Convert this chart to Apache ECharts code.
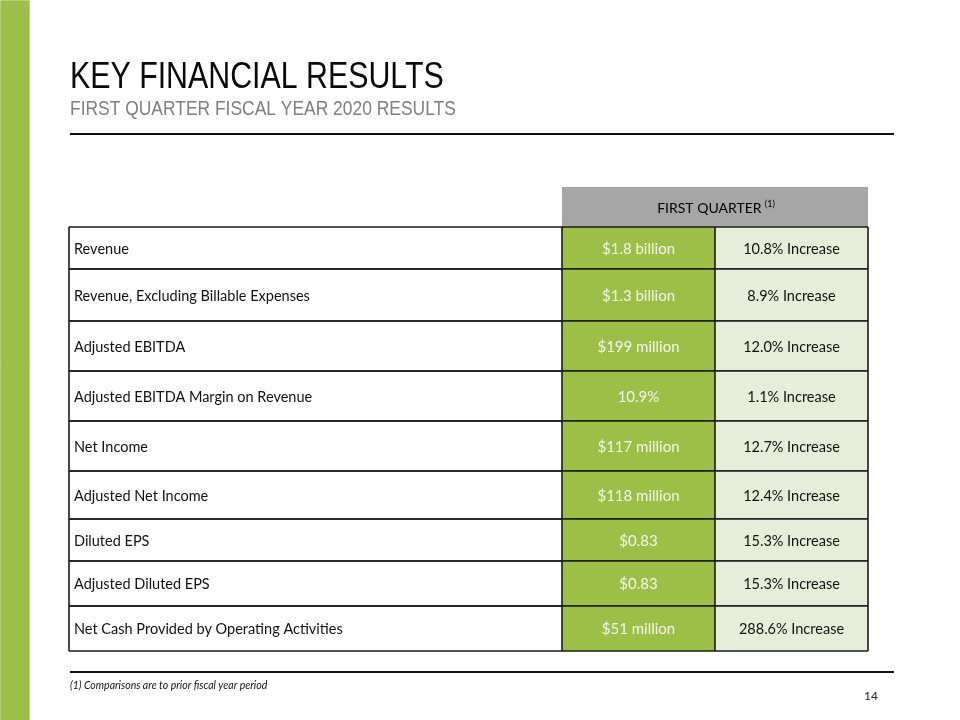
<!DOCTYPE html>
<html><head><meta charset="utf-8">
<script src="https://cdn.jsdelivr.net/npm/echarts@6/dist/echarts.min.js"></script>
<style>html,body{margin:0;padding:0;background:#fff}#c{width:960px;height:720px}</style>
</head><body><div id="c"></div>
<script>
// ---- data ----
const metrics = [
  'Revenue',
  'Revenue, Excluding Billable Expenses',
  'Adjusted EBITDA',
  'Adjusted EBITDA Margin on Revenue',
  'Net Income',
  'Adjusted Net Income',
  'Diluted EPS',
  'Adjusted Diluted EPS',
  'Net Cash Provided by Operating Activities'
];
const values = ['$1.8 billion', '$1.3 billion', '$199 million', '10.9%', '$117 million', '$118 million', '$0.83', '$0.83', '$51 million'];
const changes = ['10.8% Increase', '8.9% Increase', '12.0% Increase', '1.1% Increase', '12.7% Increase', '12.4% Increase', '15.3% Increase', '15.3% Increase', '288.6% Increase'];
const headerLabel = 'FIRST QUARTER';
const headerNote = '(1)';
const titleText = 'KEY FINANCIAL RESULTS';
const subtitleText = 'FIRST QUARTER FISCAL YEAR 2020 RESULTS';
const footnoteText = '(1) Comparisons are to prior fiscal year period';
const pageNumber = '14';

// ---- layout (sizes, not data) ----
const colWidths = [493, 153, 153];
const headerHeight = 40;
const rowHeights = [42, 52, 50, 50, 50, 48, 42, 45, 45];

const GREEN = '#9cbf47';
const LIGHT = '#e6eed9';
const GRAY = '#a6a6a6';
const LINE = '#1a1a1a';
const BODY_FONT = 'Lato';

const colEdges = [0];
colWidths.forEach(w => colEdges.push(colEdges[colEdges.length - 1] + w));
const totalW = colEdges[colEdges.length - 1];
const totalH = headerHeight + rowHeights.reduce((a, b) => a + b, 0);
function rowTop(i) { let s = headerHeight; for (let k = 0; k < i; k++) s += rowHeights[k]; return s; }

function renderRow(params, api) {
  const i = api.value(0);
  const y0 = rowTop(i), y1 = y0 + rowHeights[i];
  const p = colEdges.map(x => api.coord([x, y0]));
  const q = colEdges.map(x => api.coord([x, y1]));
  const top = p[0][1], bot = q[0][1], mid = (top + bot) / 2 + 1;
  const ln = (x1, ya, x2, yb) => ({ type: 'line', shape: { x1: x1, y1: ya, x2: x2, y2: yb }, style: { stroke: LINE, lineWidth: 1.6 } });
  const txt = (x, text, fill, align, size) => ({
    type: 'text', x: x, y: mid,
    style: { text: text, fill: fill, font: size + 'px ' + BODY_FONT, textAlign: align, align: align, textVerticalAlign: 'middle', verticalAlign: 'middle' }
  });
  return {
    type: 'group',
    children: [
      { type: 'rect', shape: { x: p[1][0], y: top, width: p[2][0] - p[1][0], height: bot - top }, style: { fill: GREEN } },
      { type: 'rect', shape: { x: p[2][0], y: top, width: p[3][0] - p[2][0], height: bot - top }, style: { fill: LIGHT } },
      ln(p[0][0], top, p[3][0], top),
      ln(p[0][0], bot, p[3][0], bot),
      ln(p[0][0], top, p[0][0], bot),
      ln(p[1][0], top, p[1][0], bot),
      ln(p[2][0], top, p[2][0], bot),
      ln(p[3][0], top, p[3][0], bot),
      txt(p[0][0] + 5, metrics[i], '#111', 'left', 14.5),
      txt((p[1][0] + p[2][0]) / 2, values[i], '#f4f7ee', 'center', 15),
      txt((p[2][0] + p[3][0]) / 2, changes[i], '#111', 'center', 14.5)
    ]
  };
}

function renderHeader(params, api) {
  const a = api.coord([colEdges[1], 0]);
  const b = api.coord([colEdges[3], headerHeight]);
  return {
    type: 'group',
    children: [
      { type: 'rect', shape: { x: a[0], y: a[1], width: b[0] - a[0], height: b[1] - a[1] }, style: { fill: GRAY } },
      {
        type: 'text', x: (a[0] + b[0]) / 2 + 1, y: (a[1] + b[1]) / 2 + 1,
        style: {
          text: '{m|' + headerLabel + '} {s|' + headerNote + '}',
          textAlign: 'center', align: 'center', textVerticalAlign: 'middle', verticalAlign: 'middle',
          rich: {
            m: { fontFamily: BODY_FONT, fontSize: 14, color: '#f5f5f5', lineHeight: 16 },
            s: { fontFamily: BODY_FONT, fontSize: 9, color: '#f5f5f5', verticalAlign: 'top', lineHeight: 16, padding: [0, 0, 6, 0] }
          }
        }
      }
    ]
  };
}

const chart = echarts.init(document.getElementById('c'), null, { renderer: 'canvas' });
chart.setOption({
  animation: false,
  backgroundColor: '#ffffff',
  grid: { left: 69, top: 187, width: totalW, height: totalH },
  xAxis: { type: 'value', min: 0, max: totalW, show: false },
  yAxis: { type: 'value', min: 0, max: totalH, inverse: true, show: false },
  series: [
    { type: 'custom', coordinateSystem: 'cartesian2d', data: [[0]], renderItem: renderHeader, silent: true },
    { type: 'custom', coordinateSystem: 'cartesian2d', data: metrics.map((m, i) => [i]), renderItem: renderRow, silent: true }
  ],
  graphic: [
    { type: 'rect', left: 0, top: 0, shape: { x: 0, y: 0, width: 29, height: 720 }, style: { fill: '#9cbf4a', stroke: '#b4d27a', lineWidth: 1 } },
    { type: 'text', x: 70, y: 78, scaleX: 0.82, style: { text: titleText, font: '37px "Liberation Sans"', fill: '#0a0a0a', textVerticalAlign: 'middle', verticalAlign: 'middle' } },
    { type: 'text', x: 70, y: 109, scaleX: 0.83, style: { text: subtitleText, font: '21px "Liberation Sans"', fill: '#7f7f7f', textVerticalAlign: 'middle', verticalAlign: 'middle' } },
    { type: 'line', shape: { x1: 70, y1: 134, x2: 894, y2: 134 }, style: { stroke: '#111', lineWidth: 2 } },
    { type: 'line', shape: { x1: 70, y1: 672, x2: 894, y2: 672 }, style: { stroke: '#111', lineWidth: 2 } },
    { type: 'text', x: 70, y: 686, style: { text: footnoteText, font: 'italic 10.5px ' + BODY_FONT, fill: '#111', textVerticalAlign: 'middle', verticalAlign: 'middle' } },
    { type: 'text', x: 878, y: 696, style: { text: pageNumber, font: '12px ' + BODY_FONT, fill: '#222', textAlign: 'right', align: 'right', textVerticalAlign: 'middle', verticalAlign: 'middle' } }
  ]
});
</script></body></html>
